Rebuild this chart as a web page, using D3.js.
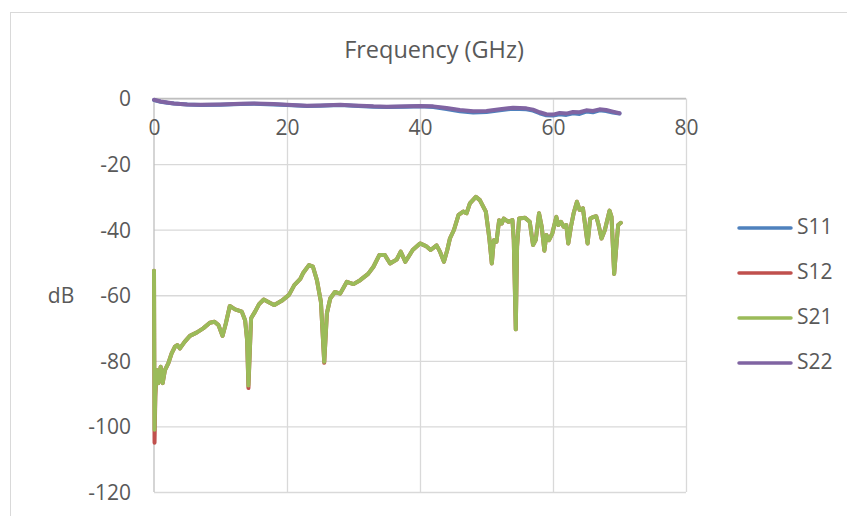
<!DOCTYPE html>
<html>
<head>
<meta charset="utf-8">
<script src="https://cdn.jsdelivr.net/npm/d3@7"></script>
<style>
  html, body { margin: 0; padding: 0; background: #fff; }
  svg { display: block; font-family: "Open Sans", "Liberation Sans", sans-serif; }
</style>
</head>
<body>
<svg id="chart" width="847" height="516"></svg>
<script>
// ---- data ----
const chartTitle = "Frequency (GHz)";
const yLabel = "dB";
const seriesNames = ["S11", "S12", "S21", "S22"];
const seriesColors = ["#4F81BD", "#C0504D", "#9BBB59", "#8064A2"];
const xTicks = [0, 20, 40, 60, 80];
const yTicks = [0, -20, -40, -60, -80, -100, -120];

// [GHz, dB]
const s11Points = [
  [0, -0.5], [1, -1.0], [2, -1.3], [3, -1.5], [5, -1.8], [7, -2.0], [10, -1.9], [13, -1.7],
  [15, -1.6], [18, -1.8], [20, -2.0], [23, -2.3], [25, -2.2], [28, -2.0], [30, -2.2], [33, -2.5],
  [35, -2.6], [38, -2.5], [40, -2.4], [42, -2.6], [44, -3.2], [46, -3.9], [48, -4.3], [50, -4.1],
  [52, -3.6], [54, -3.1], [56, -3.3], [57, -3.7], [58, -4.5], [59, -5.1], [60, -5.2], [61, -4.8],
  [62, -5.0], [63, -4.5], [64, -4.7], [65, -4.0], [66, -4.2], [67, -3.6], [68, -3.8], [69, -4.3], [70, -4.6]
];
const s22Points = [
  [0, -0.4], [1, -0.9], [2, -1.2], [3, -1.5], [5, -1.8], [7, -1.9], [10, -1.8], [13, -1.6],
  [15, -1.5], [18, -1.7], [20, -1.9], [23, -2.2], [25, -2.1], [28, -1.9], [30, -2.1], [33, -2.4],
  [35, -2.5], [38, -2.4], [40, -2.3], [42, -2.4], [44, -2.9], [46, -3.5], [48, -3.9], [50, -3.8],
  [52, -3.3], [54, -2.8], [56, -3.0], [57, -3.4], [58, -4.2], [59, -4.8], [60, -4.9], [61, -4.4],
  [62, -4.6], [63, -4.1], [64, -4.2], [65, -3.6], [66, -3.8], [67, -3.3], [68, -3.5], [69, -4.0], [70, -4.5]
];
const s21Points = [
  [0, -52.5], [0.08, -101], [0.2, -90], [0.4, -82.8], [0.65, -86.8], [1.0, -81.8], [1.3, -86.8],
  [1.65, -82.8], [2.15, -80.8], [2.65, -77.7], [3.15, -75.7], [3.5, -75.2], [3.9, -76.2], [4.6, -74.2],
  [5.4, -72.4], [6.4, -71.4], [7.4, -70.1], [8.4, -68.4], [9.1, -68.1], [9.7, -69.1], [10.3, -72.4],
  [10.8, -68.6], [11.4, -63.3], [12.2, -64.3], [13.2, -65.0], [13.7, -67.6], [14.0, -73.7], [14.2, -87.5],
  [14.6, -67.0], [15.2, -65.0], [15.8, -62.7], [16.5, -61.3], [17.4, -62.3], [18.1, -63.0], [19.2, -61.7],
  [20.3, -59.9], [21.1, -56.9], [22.0, -55.0], [22.4, -53.3], [23.3, -50.8], [23.9, -51.3], [24.5, -55.4],
  [25.1, -62.0], [25.6, -80.3], [26.0, -65.5], [26.5, -61.0], [27.2, -59.0], [28.0, -59.5], [29.0, -55.9],
  [30.0, -56.6], [31.0, -55.4], [32.2, -53.5], [33.0, -51.3], [33.9, -47.7], [34.7, -47.7], [35.5, -50.3],
  [36.5, -49.1], [37.1, -46.7], [37.8, -49.8], [38.9, -46.2], [40.0, -44.2], [40.9, -45.0], [41.6, -46.2],
  [42.5, -44.8], [43.0, -46.7], [43.6, -49.8], [44.1, -46.2], [44.5, -42.7], [45.1, -40.1], [45.8, -35.5],
  [46.5, -34.5], [47.0, -35.0], [47.5, -32.0], [48.4, -30.0], [49.0, -31.0], [49.9, -34.5], [50.4, -42.2],
  [50.8, -50.3], [51.1, -43.2], [51.5, -43.7], [51.9, -37.1], [52.3, -38.1], [52.6, -36.6], [53.3, -37.6],
  [53.9, -37.1], [54.1, -43.2], [54.4, -70.4], [54.6, -45.2], [54.9, -36.6], [55.8, -36.4], [56.5, -37.6],
  [57.0, -44.7], [57.4, -43.2], [57.9, -35.0], [58.3, -39.1], [58.7, -46.4], [59.0, -41.6], [59.4, -43.2],
  [59.9, -41.1], [60.5, -36.1], [60.8, -38.6], [61.2, -37.6], [61.6, -39.1], [62.0, -38.6], [62.3, -44.2],
  [62.7, -39.1], [63.1, -35.0], [63.6, -31.5], [64.0, -34.0], [64.5, -33.5], [64.8, -38.1], [65.2, -44.2],
  [65.6, -36.6], [66.1, -36.1], [66.5, -35.9], [66.8, -38.1], [67.3, -42.7], [67.8, -40.1], [68.5, -34.2],
  [68.8, -36.1], [69.2, -53.5], [69.6, -43.2], [69.8, -38.6], [70.2, -37.9]
];
const s12Points = [
  [0, -52.5], [0.08, -105], [0.2, -91], [0.4, -82.8], [0.65, -86.8], [1.0, -81.8], [1.3, -86.8],
  [1.65, -82.8], [2.15, -80.8], [2.65, -77.7], [3.15, -75.7], [3.5, -75.2], [3.9, -76.2], [4.6, -74.2],
  [5.4, -72.4], [6.4, -71.4], [7.4, -70.1], [8.4, -68.4], [9.1, -68.1], [9.7, -69.1], [10.3, -72.4],
  [10.8, -68.6], [11.4, -63.3], [12.2, -64.3], [13.2, -65.0], [13.7, -67.6], [14.0, -73.7], [14.2, -88.3],
  [14.6, -67.0], [15.2, -65.0], [15.8, -62.7], [16.5, -61.3], [17.4, -62.3], [18.1, -63.0], [19.2, -61.7],
  [20.3, -59.9], [21.1, -56.9], [22.0, -55.0], [22.4, -53.3], [23.3, -50.8], [23.9, -51.3], [24.5, -55.4],
  [25.1, -62.0], [25.6, -80.6], [26.0, -65.5], [26.5, -61.0], [27.2, -59.0], [28.0, -59.5], [29.0, -55.9],
  [30.0, -56.6], [31.0, -55.4], [32.2, -53.5], [33.0, -51.3], [33.9, -47.7], [34.7, -47.7], [35.5, -50.3],
  [36.5, -49.1], [37.1, -46.7], [37.8, -49.8], [38.9, -46.2], [40.0, -44.2], [40.9, -45.0], [41.6, -46.2],
  [42.5, -44.8], [43.0, -46.7], [43.6, -49.8], [44.1, -46.2], [44.5, -42.7], [45.1, -40.1], [45.8, -35.5],
  [46.5, -34.5], [47.0, -35.0], [47.5, -32.0], [48.4, -30.0], [49.0, -31.0], [49.9, -34.5], [50.4, -42.2],
  [50.8, -50.3], [51.1, -43.2], [51.5, -43.7], [51.9, -37.1], [52.3, -38.1], [52.6, -36.6], [53.3, -37.6],
  [53.9, -37.1], [54.1, -43.2], [54.4, -70.4], [54.6, -45.2], [54.9, -36.6], [55.8, -36.4], [56.5, -37.6],
  [57.0, -44.7], [57.4, -43.2], [57.9, -35.0], [58.3, -39.1], [58.7, -46.4], [59.0, -41.6], [59.4, -43.2],
  [59.9, -41.1], [60.5, -36.1], [60.8, -38.6], [61.2, -37.6], [61.6, -39.1], [62.0, -38.6], [62.3, -44.2],
  [62.7, -39.1], [63.1, -35.0], [63.6, -31.5], [64.0, -34.0], [64.5, -33.5], [64.8, -38.1], [65.2, -44.2],
  [65.6, -36.6], [66.1, -36.1], [66.5, -35.9], [66.8, -38.1], [67.3, -42.7], [67.8, -40.1], [68.5, -34.2],
  [68.8, -36.1], [69.2, -53.5], [69.6, -43.2], [69.8, -38.6], [70.2, -37.9]
];
const seriesData = [s11Points, s12Points, s21Points, s22Points];

// ---- layout ----
const svg = d3.select("#chart");
const plot = { left: 154, right: 686, top: 98.5, bottom: 492 };
const x = d3.scaleLinear().domain([0, 80]).range([plot.left, plot.right]);
const y = d3.scaleLinear().domain([-120, 0]).range([plot.bottom, plot.top]);
const textColor = "#595959";
const gridColor = "#d9d9d9";
const axisColor = "#bfbfbf";
const fmt = d => String(d);

// chart border
svg.append("rect").attr("x", 10.5).attr("y", 12.5).attr("width", 900).attr("height", 600)
  .attr("fill", "none").attr("stroke", gridColor).attr("stroke-width", 1);

// title
svg.append("text").attr("x", 434).attr("y", 52).attr("text-anchor", "middle")
  .attr("dominant-baseline", "middle").attr("font-size", 23.5).attr("fill", textColor)
  .text(chartTitle);

// gridlines via axes
svg.append("g").attr("transform", `translate(0,${plot.bottom})`)
  .call(d3.axisBottom(x).tickValues(xTicks.slice(1)).tickSize(-(plot.bottom - plot.top)).tickFormat(""))
  .call(g => g.select(".domain").remove())
  .call(g => g.selectAll("line").attr("stroke", gridColor).attr("stroke-width", 1.3));
svg.append("g").attr("transform", `translate(${plot.left},0)`)
  .call(d3.axisLeft(y).tickValues(yTicks).tickSize(-(plot.right - plot.left)).tickFormat(""))
  .call(g => g.select(".domain").remove())
  .call(g => g.selectAll("line").attr("stroke", gridColor).attr("stroke-width", 1.3));

// y axis line at x=0
svg.append("line").attr("x1", x(0)).attr("x2", x(0)).attr("y1", plot.top).attr("y2", plot.bottom)
  .attr("stroke", axisColor).attr("stroke-width", 1.3);
// x axis line at y=0
svg.append("line").attr("x1", plot.left).attr("x2", plot.right).attr("y1", y(0)).attr("y2", y(0))
  .attr("stroke", axisColor).attr("stroke-width", 1.3);

// y tick labels
const yAxis = svg.append("g").attr("transform", `translate(${plot.left - 23},0)`)
  .call(d3.axisLeft(y).tickValues(yTicks).tickSize(0).tickPadding(0).tickFormat(fmt));
yAxis.select(".domain").remove();
yAxis.selectAll("text").attr("font-size", 21).attr("fill", textColor)
  .attr("font-family", "'Open Sans', sans-serif").attr("dy", "0.35em").attr("text-anchor", "end");

// x tick labels (below the 0 line)
const xAxis = svg.append("g").attr("transform", `translate(0,${y(0) + 22})`)
  .call(d3.axisBottom(x).tickValues(xTicks).tickSize(0).tickPadding(0).tickFormat(fmt));
xAxis.select(".domain").remove();
xAxis.selectAll("text").attr("font-size", 21).attr("fill", textColor)
  .attr("font-family", "'Open Sans', sans-serif").attr("dy", "0.71em");

// y label
svg.append("text").attr("x", 61).attr("y", 297).attr("text-anchor", "middle")
  .attr("dominant-baseline", "middle").attr("font-size", 21).attr("fill", textColor).text(yLabel);

// series lines
const line = d3.line().x(d => x(d[0])).y(d => y(d[1]));
seriesData.forEach((pts, i) => {
  svg.append("path").datum(pts).attr("d", line).attr("fill", "none")
    .attr("stroke", seriesColors[i]).attr("stroke-width", 4)
    .attr("stroke-linejoin", "round").attr("stroke-linecap", "round");
});

// legend
const legend = svg.append("g");
seriesNames.forEach((name, i) => {
  const ly = 228 + i * 45;
  legend.append("line").attr("x1", 739).attr("x2", 791).attr("y1", ly).attr("y2", ly)
    .attr("stroke", seriesColors[i]).attr("stroke-width", 3.5).attr("stroke-linecap", "round");
  legend.append("text").attr("x", 797).attr("y", ly).attr("dominant-baseline", "middle")
    .attr("font-size", 21).attr("fill", textColor).text(name);
});
</script>
</body>
</html>
